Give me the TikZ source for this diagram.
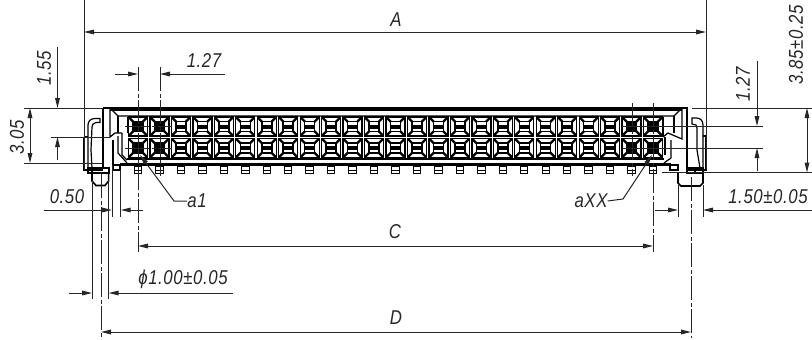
\documentclass[tikz,border=0pt]{standalone}
\usepackage{fontspec}
\setmainfont[FakeStretch=0.84,LetterSpace=3]{Liberation Sans}
\usetikzlibrary{arrows.meta}
\definecolor{dimgray}{HTML}{262626}
\tikzset{
  part/.style={draw=black,line width=1.2pt,line join=miter},
  heavy/.style={draw=black,line width=2.2pt},
  extline/.style={draw=dimgray,line width=1pt},
  centerline/.style={draw=dimgray,line width=1pt,dash pattern=on 24pt off 2.5pt on 4pt off 2.5pt},
  dimend/.style={draw=dimgray,line width=1pt,-{Triangle[length=10pt,width=4.6pt]}},
  dimboth/.style={draw=dimgray,line width=1pt,{Triangle[length=10pt,width=4.6pt]}-{Triangle[length=10pt,width=4.6pt]}},
  dimtext/.style={inner sep=0pt,text=black!85,font=\fontsize{20}{20}\selectfont\itshape}
}
% one contact window, #3 is the core
\newcommand{\cellbox}[3]{
  \fill[white] (#1-9.5,#2-9.5) rectangle (#1+9.5,#2+9.5);
  \draw[line width=1.3pt] (#1-9.5,#2-9.5) rectangle (#1+9.5,#2+9.5);
  \foreach \sx in {-1,1} \foreach \sy in {-1,1}
    \draw[line width=2.3pt] (#1+\sx*9,#2+\sy*9) -- (#1+\sx*4.5,#2+\sy*4.5);
  \draw[line width=1.5pt,fill=white] (#1-5,#2-5) rectangle (#1+5,#2+5);
  \ifnum#3=1
    \fill[black] (#1-5,#2-5) rectangle (#1+5,#2+5);
  \else
    \fill[black] (#1-5,#2-2) rectangle (#1+5,#2+2);
  \fi
}
\begin{document}
\begin{tikzpicture}[x=1pt,y=-1pt]
  \useasboundingbox (0,0) rectangle (812,340);

  % housing rails
  \draw[part] (103,108) -- (687,108) -- (687,170);
  \draw[part] (103,108) -- (103,168);
  \draw[heavy] (110,109.5) -- (682,109.5);
  \draw[part] (110,108) -- (110,137) -- (115,133) -- (122,133);
  \draw[part] (682,108) -- (682,139) -- (668,133) -- (663,137);
  \draw[part] (110,108) -- (118,116) -- (674,116) -- (682,108);
  \draw[part] (118,116) -- (118,133);
  \draw[part] (674,116) -- (674,133);
  \draw[part] (128,117) -- (128,133);
  \draw[part] (663,117) -- (663,137);
  \draw[part] (122,133) -- (122,155) -- (127,160);
  \draw[part] (113,140) -- (113,165);
  \draw[part] (118,136) -- (118,153) -- (127,163);
  \draw[part] (671,140) -- (671,158) -- (664,163);
  \draw[part] (665,137) -- (665,155);
  \draw[heavy] (120,164.5) -- (671,164.5);
  \draw[part] (127,159) -- (664,159);

  % contacts
  \foreach \i in {0,...,24}{
    \pgfmathsetmacro{\cx}{138+21.46*\i}
    \pgfmathtruncatemacro{\core}{(\i<2)||(\i>22)?1:0}
    \cellbox{\cx}{126.5}{\core}
    \cellbox{\cx}{148}{\core}
    \draw[part,line width=1pt] (\cx-3.7,166) rectangle (\cx+3.7,173.3);
    \draw[part,line width=1pt] (\cx-3.7,170) -- (\cx+3.7,170);
  }

  % left latch
  \draw[part] (113,165) rectangle (120,170);
  \draw[part] (84,137) -- (84,170) -- (103,170);
  \draw[part] (84,137) -- (88,137);
  \draw[part] (88,168) -- (88,125) .. controls (88,121) and (91,118.5) .. (95,118.5) -- (100,118.5) -- (100,122.5) -- (96,122.5) .. controls (93,123) and (92,125) .. (92,127) -- (91,150) -- (92,168);
  \draw[part] (88,168) rectangle (109,173);
  \draw[part] (92,168) -- (92,173);
  \draw[part,line width=1.6pt] (92,173) -- (92,181) -- (96,185.5) -- (105,185.5) -- (108.6,181) -- (108.6,173);

  % right latch
  \draw[part] (670,165) rectangle (678,170);
  \draw[part] (703,136) -- (706,136) -- (706,170) -- (687,170);
  \draw[part] (703,168) -- (703,125) .. controls (703,120) and (700,118) .. (696,118) -- (692,118) -- (692,124) -- (696,125) .. controls (697,126) and (697,127) .. (697,128) -- (697,150) -- (700,168);
  \draw[part] (687,168) rectangle (703,173);
  \draw[part] (695,168) -- (695,173);
  \draw[part,line width=1.6pt] (678,173) -- (678,183) -- (681,186) -- (700,186) -- (703,183) -- (703,173);

  % centre lines
  \draw[centerline] (138,67) -- (138,252);
  \draw[centerline] (160,67) -- (160,176);
  \draw[centerline] (632,103) -- (632,176);
  \draw[centerline] (653,103) -- (653,252);
  \draw[centerline] (125,126) -- (172,126);
  \draw[centerline] (125,148) -- (172,148);
  \draw[centerline] (101,174) -- (101,338);
  \draw[centerline] (691,177) -- (691,338);

  % 'A'
  \draw[extline] (84,0) -- (84,170);
  \draw[extline] (706,0) -- (706,170);
  \coordinate (al) at (84,32);
  \coordinate (ar) at (706,32);
  \draw[dimboth] (al) -- (ar);
  \node[dimtext] at (396,20) (a) {A};

  % '1.27' top
  \coordinate (pl) at (115,74);
  \coordinate (pa) at (138,74);
  \coordinate (pb) at (160,74);
  \coordinate (pr) at (225,74);
  \draw[dimend] (pl) -- (pa);
  \draw[dimend] (pr) -- (pb);
  \node[dimtext] at (204,61) (pitch) {1.27};

  % '1.55'
  \draw[extline] (24,108) -- (103,108);
  \draw[extline] (24,163) -- (103,163);
  \draw[extline] (51,137) -- (110,137);
  \coordinate (ha) at (57.5,47);
  \coordinate (hb) at (57.5,108);
  \coordinate (hc) at (57.5,137);
  \coordinate (hd) at (57.5,160);
  \draw[dimend] (ha) -- (hb);
  \draw[dimend] (hd) -- (hc);
  \node[dimtext,rotate=90] at (44,68) (hlabel) {1.55};

  % '3.05'
  \coordinate (wa) at (30,108);
  \coordinate (wb) at (30,163);
  \draw[dimboth] (wa) -- (wb);
  \node[dimtext,rotate=90] at (17,137) (wlabel) {3.05};

  % 'a1' and 'aXX'
  \node[dimtext] at (197,201) (a1) {a1};
  \coordinate (a1t) at (140,155);
  \draw[dimend] (a1.west) -- (174,201) -- (a1t);
  \node[dimtext] at (591,201) (axx) {aXX};
  \coordinate (axxt) at (652,155);
  \draw[dimend] (axx.east) -- (623,199) -- (axxt);

  % '0.50'
  \draw[extline] (112,165) -- (112,217);
  \draw[extline] (120.6,170) -- (120.6,217);
  \coordinate (ba) at (44,210);
  \coordinate (bb) at (112,210);
  \coordinate (bc) at (120.6,210);
  \coordinate (bd) at (143,210);
  \draw[dimend] (ba) -- (bb);
  \draw[dimend] (bd) -- (bc);
  \node[dimtext] at (67,197) (blabel) {0.50};

  % '1.50'
  \draw[extline] (678,185) -- (678,217);
  \draw[extline] (703,185) -- (703,217);
  \coordinate (fa) at (655,210);
  \coordinate (fb) at (678,210);
  \coordinate (fc) at (703,210);
  \coordinate (fd) at (812,210);
  \draw[dimend] (fa) -- (fb);
  \draw[dimend] (fd) -- (fc);
  \node[dimtext] at (768,197) (flabel) {1.50±0.05};

  % 'C'
  \coordinate (cl) at (138,246);
  \coordinate (cr) at (653,246);
  \draw[dimboth] (cl) -- (cr);
  \node[dimtext] at (395,232) (c) {C};

  % diameter
  \draw[extline] (92,180) -- (92,299);
  \draw[extline] (108.6,180) -- (108.6,299);
  \coordinate (ga) at (69,293);
  \coordinate (gb) at (92,293);
  \coordinate (gc) at (108.6,293);
  \coordinate (gd) at (233,293);
  \draw[dimend] (ga) -- (gb);
  \draw[dimend] (gd) -- (gc);
  \node[dimtext] at (183,279) (glabel) {ϕ1.00±0.05};

  % 'D'
  \coordinate (dl) at (101,332);
  \coordinate (dr) at (691,332);
  \draw[dimboth] (dl) -- (dr);
  \node[dimtext] at (396,318) (d) {D};

  % '1.27' right
  \draw[extline] (622,126) -- (763,126);
  \draw[extline] (622,148) -- (763,148);
  \coordinate (ka) at (757,61);
  \coordinate (kb) at (757,126);
  \coordinate (kc) at (757,148);
  \coordinate (kd) at (757,171);
  \draw[dimend] (ka) -- (kb);
  \draw[dimend] (kd) -- (kc);
  \node[dimtext,rotate=90] at (743,84) (klabel) {1.27};

  % '3.85'
  \draw[extline] (692,108) -- (812,108);
  \draw[extline] (662,172.5) -- (812,172.5);
  \coordinate (ma) at (807,108);
  \coordinate (mb) at (807,172.5);
  \draw[dimboth] (ma) -- (mb);
  \node[dimtext,rotate=90] at (796,45) (mlabel) {3.85±0.25};
\end{tikzpicture}
\end{document}
